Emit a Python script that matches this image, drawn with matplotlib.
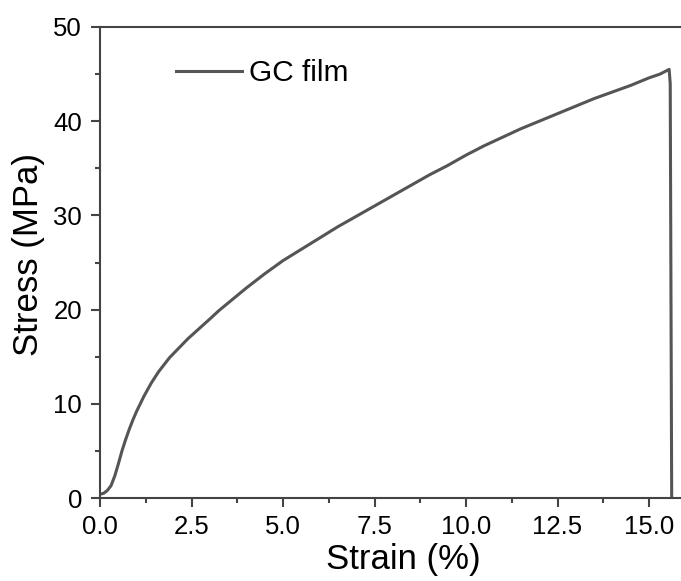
import matplotlib
matplotlib.use("Agg")
import matplotlib.pyplot as plt
from matplotlib.ticker import MultipleLocator

plt.rcParams['font.family'] = ['Liberation Sans', 'DejaVu Sans']

# Tensile test of the GC film
strain = [0.0, 0.1, 0.2, 0.3, 0.4, 0.5, 0.6, 0.7, 0.8, 0.9, 1.0, 1.1, 1.2,
          1.3, 1.4, 1.5, 1.6, 1.7, 1.8, 1.9, 2.0, 2.2, 2.4, 2.6, 2.8, 3.0,
          3.25, 3.5, 3.75, 4.0, 4.5, 5.0, 5.5, 6.0, 6.5, 7.0, 7.5, 8.0, 8.5,
          9.0, 9.5, 10.0, 10.5, 11.0, 11.5, 12.0, 12.5, 13.0, 13.5, 14.0,
          14.5, 15.0, 15.3, 15.55, 15.58, 15.62]
stress = [0.4, 0.5, 0.8, 1.3, 2.3, 3.6, 5.0, 6.2, 7.3, 8.3, 9.2, 10.0, 10.8,
          11.5, 12.2, 12.8, 13.4, 13.9, 14.4, 14.9, 15.3, 16.1, 16.9, 17.6,
          18.3, 19.0, 19.9, 20.7, 21.5, 22.3, 23.8, 25.2, 26.4, 27.6, 28.8,
          29.9, 31.0, 32.1, 33.2, 34.3, 35.3, 36.4, 37.4, 38.3, 39.2, 40.0,
          40.8, 41.6, 42.4, 43.1, 43.8, 44.6, 45.0, 45.5, 44.0, 0.0]

x_ticks = [0.0, 2.5, 5.0, 7.5, 10.0, 12.5, 15.0]
y_ticks = [0, 10, 20, 30, 40, 50]

fig = plt.figure(figsize=(6.81, 5.81), dpi=100)
ax = fig.add_axes([100 / 681, 1 - 498 / 581, 581 / 681, 471 / 581])

ax.plot(strain, stress, color='#555555', lw=2.2, label='GC film',
        solid_joinstyle='round')

ax.set_xlim(0, 581 / 36.6)
ax.set_ylim(0, 50)
ax.set_xticks(x_ticks)
ax.set_xticklabels([f"{v:.1f}" for v in x_ticks])
ax.set_yticks(y_ticks)
ax.xaxis.set_minor_locator(MultipleLocator(1.25))
ax.yaxis.set_minor_locator(MultipleLocator(5))

spine_color = '#444444'
for side in ('left', 'bottom', 'top'):
    ax.spines[side].set_color(spine_color)
    ax.spines[side].set_linewidth(1.5)
ax.spines['right'].set_visible(False)

ax.tick_params(which='both', direction='out', color=spine_color, width=1.5,
               labelsize=18.5, top=False, right=False)
ax.tick_params(which='major', length=6.5)
ax.tick_params(axis='x', which='major', pad=5.5)
ax.tick_params(axis='y', which='major', pad=6.5)
ax.tick_params(which='minor', length=3.5)

ax.set_xlabel('Strain (%)', fontsize=25, va='center')
ax.set_ylabel('Stress (MPa)', fontsize=25, va='center')
ax.xaxis.set_label_coords(303 / 581, -61 / 471)
ax.yaxis.set_label_coords(-71 / 581, (498 - 254) / 471)

ax.legend(loc='center left', bbox_to_anchor=(176 / 681, 1 - 73 / 581),
          bbox_transform=fig.transFigure, frameon=False, fontsize=21.5,
          handlelength=2.2, handletextpad=0.25, borderpad=0,
          borderaxespad=0)

fig.savefig('out.png', dpi=100)
